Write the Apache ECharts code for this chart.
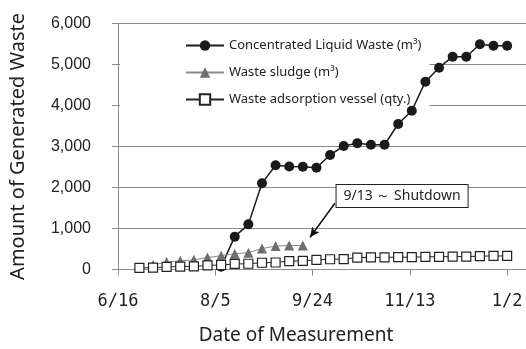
<!DOCTYPE html>
<html>
<head>
<meta charset="utf-8">
<script src="https://cdn.jsdelivr.net/npm/echarts@6/dist/echarts.min.js"></script>
<style>
html,body{margin:0;padding:0;background:#fff;}
#chart{width:526px;height:349px;}
</style>
</head>
<body>
<div id="chart"></div>
<script>
// x values are days counted from 6/16
const tickLabels = ['6/16', '8/5', '9/24', '11/13', '1/2'];
const tickDays = 50;

const liquidDays = [53, 60, 67, 74, 81, 88, 95, 102, 109, 116, 123, 130, 137, 144, 151, 158, 165, 172, 179, 186, 193, 200];
const liquidValues = [70, 800, 1100, 2100, 2540, 2510, 2505, 2480, 2790, 3010, 3075, 3040, 3040, 3545, 3870, 4577, 4918, 5186, 5186, 5488, 5454, 5454];

const sludgeDays = [18, 25, 32, 39, 46, 53, 60, 67, 74, 81, 88, 95];
const sludgeValues = [110, 180, 212, 236, 292, 334, 385, 410, 510, 573, 585, 585];

const vesselDays = [11, 18, 25, 32, 39, 46, 53, 60, 67, 74, 81, 88, 95, 102, 109, 116, 123, 130, 137, 144, 151, 158, 165, 172, 179, 186, 193, 200];
const vesselValues = [40, 45, 65, 70, 75, 100, 110, 135, 140, 165, 170, 205, 210, 235, 250, 255, 290, 295, 295, 300, 300, 310, 310, 315, 315, 325, 330, 330];

const seriesNames = ['Concentrated Liquid Waste (m³)', 'Waste sludge (m³)', 'Waste adsorption vessel (qty.)'];
const noteText = '9/13 ～ Shutdown';
const noteBox = [146, 1790];
const arrowFrom = [111.5, 1613];
const arrowTo = [98.7, 785];

function pairs(xs, ys) { return xs.map((x, i) => [x, ys[i]]); }

const chart = echarts.init(document.getElementById('chart'), null, {renderer: 'canvas'});
const grey = '#8c8c8c';
chart.setOption({
  animation: false,
  backgroundColor: '#fff',
  grid: {left: 118, right: 0, top: 23.3, bottom: 79.5, containLabel: false, outerBoundsMode: 'none'},
  title: {
    text: 'Date of Measurement',
    left: 291, top: 321, textAlign: 'center',
    textStyle: {fontFamily: 'Noto Sans', fontSize: 19, fontWeight: 'normal', color: '#222'}
  },
  legend: {
    orient: 'vertical',
    left: 120, top: 33,
    padding: [6, 8, 6, 65],
    backgroundColor: '#fff',
    z: 1,
    itemWidth: 38, itemHeight: 13, itemGap: 14,
    textStyle: {fontFamily: 'Noto Sans', fontSize: 13, color: '#222'},
    data: seriesNames
  },
  xAxis: {
    type: 'value', min: 0, max: 209.7, interval: tickDays,
    axisLine: {show: true, onZero: false, lineStyle: {color: grey, width: 1}},
    axisTick: {show: true, inside: false, length: 6, lineStyle: {color: grey}},
    splitLine: {show: false},
    axisLabel: {
      showMaxLabel: false, margin: 24,
      fontFamily: 'DejaVu Sans Mono', fontSize: 17, color: '#222',
      formatter: v => tickLabels[Math.round(v / tickDays)] || ''
    }
  },
  yAxis: {
    type: 'value', min: 0, max: 6000, interval: 1000,
    name: 'Amount of Generated Waste', nameLocation: 'middle', nameGap: 90, nameRotate: 90,
    nameTextStyle: {fontFamily: 'Noto Sans', fontSize: 20, color: '#222'},
    axisLine: {show: true, onZero: false, lineStyle: {color: grey, width: 1}},
    axisTick: {show: true, inside: false, length: 6, lineStyle: {color: grey}},
    splitLine: {show: true, lineStyle: {color: grey, width: 1}},
    axisLabel: {
      margin: 27, fontFamily: 'Liberation Sans', fontSize: 16, color: '#222',
      formatter: v => v.toLocaleString('en-US')
    }
  },
  series: [
    {
      name: seriesNames[0], type: 'line', data: pairs(liquidDays, liquidValues),
      symbol: 'circle', symbolSize: 10,
      lineStyle: {color: '#1a1a1a', width: 1.5},
      itemStyle: {color: '#1a1a1a', borderColor: '#1a1a1a', borderWidth: 0}
    },
    {
      name: seriesNames[1], type: 'line', data: pairs(sludgeDays, sludgeValues),
      symbol: 'triangle', symbolSize: 10,
      lineStyle: {color: '#8a8a8a', width: 1},
      itemStyle: {color: '#6e6e6e', borderWidth: 0},
      markLine: {
        silent: true, symbol: ['none', 'arrow'], symbolSize: [7, 10],
        lineStyle: {color: '#111', width: 1.5, type: 'solid'},
        label: {show: false},
        data: [[{coord: arrowFrom}, {coord: arrowTo}]]
      },
      markPoint: {
        silent: true, symbol: 'circle', symbolSize: 0,
        itemStyle: {color: 'rgba(0,0,0,0)'},
        label: {
          show: true, position: 'inside', formatter: noteText,
          fontFamily: 'Noto Sans', fontSize: 14, color: '#222',
          backgroundColor: '#fff', borderColor: '#222', borderWidth: 1,
          padding: [4, 7, 4, 7]
        },
        data: [{coord: noteBox}]
      }
    },
    {
      name: seriesNames[2], type: 'line', data: pairs(vesselDays, vesselValues),
      symbol: 'rect', symbolSize: 9,
      lineStyle: {color: '#222', width: 1},
      itemStyle: {color: '#fff', borderColor: '#222', borderWidth: 1.2}
    }
  ]
});
</script>
</body>
</html>
